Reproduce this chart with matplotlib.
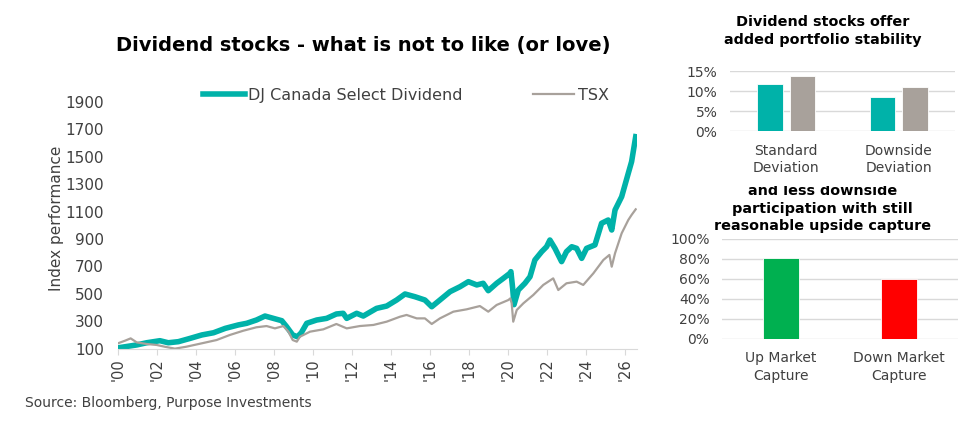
import matplotlib.pyplot as plt
from matplotlib.patches import Rectangle

# Index performance, fractional years
div_years = [2000.0, 2000.96, 2001.47, 2002.15, 2002.58, 2003.1, 2003.7, 2004.3, 2004.9,
             2005.5, 2006.17, 2006.6, 2007.1, 2007.54, 2007.97, 2008.4, 2008.65, 2008.96,
             2009.2, 2009.4, 2009.68, 2010.19, 2010.7, 2011.2, 2011.55, 2011.73, 2012.24,
             2012.58, 2013.26, 2013.78, 2014.29, 2014.72, 2015.23, 2015.74, 2016.09,
             2016.51, 2017.03, 2017.54, 2017.97, 2018.4, 2018.73, 2018.99, 2019.42,
             2019.76, 2020.1, 2020.15, 2020.24, 2020.31, 2020.53, 2020.87, 2021.13,
             2021.38, 2021.73, 2021.98, 2022.15, 2022.41, 2022.75, 2023.0, 2023.27,
             2023.52, 2023.78, 2024.03, 2024.46, 2024.8, 2025.14, 2025.32, 2025.49,
             2025.83, 2026.17, 2026.34, 2026.55]
div_values = [105, 126, 142, 157, 142, 150, 174, 199, 215,
              247, 272, 284, 308, 337, 320, 303, 259, 199,
              186, 215, 284, 308, 320, 352, 357, 320, 357,
              337, 393, 410, 454, 498, 478, 454, 405,
              454, 515, 551, 588, 564, 576, 522, 576,
              612, 649, 661, 540, 420, 527, 576, 624,
              746, 807, 843, 892, 831, 734, 807, 843,
              831, 758, 831, 856, 1014, 1038, 965, 1111,
              1208, 1379, 1464, 1646]

tsx_years = [2000.0, 2000.36, 2000.65, 2000.96, 2001.47, 2001.98, 2002.4, 2002.92, 2003.5,
             2004.3, 2005.06, 2005.74, 2006.43, 2007.1, 2007.62, 2008.05, 2008.48, 2008.74,
             2008.96, 2009.17, 2009.33, 2009.85, 2010.53, 2011.2, 2011.73, 2012.4, 2013.1,
             2013.78, 2014.46, 2014.8, 2015.32, 2015.74, 2016.09, 2016.51, 2017.2, 2017.88,
             2018.56, 2018.99, 2019.42, 2020.02, 2020.12, 2020.19, 2020.27, 2020.45,
             2020.79, 2021.3, 2021.81, 2022.32, 2022.58, 2023.0, 2023.52, 2023.86,
             2024.38, 2024.89, 2025.2, 2025.32, 2025.49, 2025.83, 2026.17, 2026.34, 2026.55]
tsx_values = [138, 157, 174, 145, 133, 126, 113, 99, 113,
              138, 162, 199, 230, 255, 264, 247, 264, 223,
              162, 150, 186, 223, 240, 279, 247, 264, 272,
              296, 332, 345, 320, 320, 279, 320, 369, 386,
              410, 369, 418, 454, 466, 430, 296, 381,
              430, 491, 564, 612, 527, 576, 588, 564,
              649, 746, 783, 697, 795, 941, 1038, 1075, 1116]

x_ticks = list(range(2000, 2027, 2))
x_tick_labels = ["'%02d" % (y % 100) for y in x_ticks]
y_ticks = list(range(100, 2000, 200))

# Volatility bars
vol_categories = ["Standard\nDeviation", "Downside\nDeviation"]
vol_div = [11.8, 8.5]
vol_tsx = [13.8, 10.9]

# Capture bars
cap_categories = ["Up Market\nCapture", "Down Market\nCapture"]
cap_values = [81, 60]

teal = "#00B2A9"
grey = "#A8A19B"
text_col = "#404040"
grid_col = "#D9D9D9"

plt.rcParams["font.family"] = ["DejaVu Sans"]

fig = plt.figure(figsize=(9.75, 4.3), dpi=100)

# Main line chart
ax = fig.add_axes([0.1210, 0.1895, 0.532, 0.6054])
ax.plot(div_years, div_values, color=teal, linewidth=4.0, label="DJ Canada Select Dividend")
ax.plot(tsx_years, tsx_values, color=grey, linewidth=1.6, label="TSX")
ax.set_xlim(2000, 2026.6)
ax.set_ylim(100, 2000)
ax.set_xticks(x_ticks)
ax.set_xticklabels(x_tick_labels, rotation=90, fontsize=10.5, color=text_col)
ax.set_yticks(y_ticks)
ax.set_yticklabels([str(v) for v in y_ticks], fontsize=11, color=text_col)
ax.tick_params(axis="y", length=0, pad=10)
ax.tick_params(axis="x", length=4, color=grid_col, pad=3)
for side in ["top", "right", "left"]:
    ax.spines[side].set_visible(False)
ax.spines["bottom"].set_color(grid_col)
ax.set_ylabel("Index performance", fontsize=11, color=text_col, labelpad=1)

fig.text(0.3728, 0.895, "Dividend stocks - what is not to like (or love)",
         fontsize=14, fontweight="bold", ha="center", va="center")
fig.legend(loc="center", bbox_to_anchor=(0.4164, 0.779), ncol=2, frameon=False,
           fontsize=11.5, handlelength=2.6, handletextpad=0.2, columnspacing=4.4,
           labelcolor=text_col)
fig.text(0.026, 0.063, "Source: Bloomberg, Purpose Investments", fontsize=10,
         color=text_col, va="center")

# Top right: volatility
ax2 = fig.add_axes([0.7487, 0.6953, 0.2308, 0.1395])
xs = [0, 1]
ax2.bar([x - 0.145 for x in xs], vol_div, width=0.23, color=teal, edgecolor="white",
        linewidth=0.6, zorder=3)
ax2.bar([x + 0.145 for x in xs], vol_tsx, width=0.23, color=grey, edgecolor="white",
        linewidth=0.6, zorder=3)
ax2.set_xlim(-0.5, 1.5)
ax2.set_ylim(0, 15)
ax2.set_yticks([0, 5, 10, 15])
ax2.set_yticklabels(["0%", "5%", "10%", "15%"], fontsize=10, color=text_col)
ax2.set_xticks(xs)
ax2.set_xticklabels(vol_categories, fontsize=10, color=text_col, linespacing=1.3)
ax2.tick_params(length=0, pad=9)
ax2.grid(axis="y", color=grid_col, linewidth=1, zorder=0)
for s in ax2.spines.values():
    s.set_visible(False)
fig.text(0.8438, 0.927, "Dividend stocks offer\nadded portfolio stability",
         fontsize=10.4, fontweight="bold", ha="center", va="center", linespacing=1.35)

# Bottom right: capture ratios
ax3 = fig.add_axes([0.7405, 0.2123, 0.242, 0.2326])
ax3.bar(xs, cap_values, width=0.31, color=["#00B050", "#FF0000"], edgecolor="white",
        linewidth=0.6, zorder=3)
ax3.set_xlim(-0.5, 1.5)
ax3.set_ylim(0, 100)
ax3.set_yticks(range(0, 101, 20))
ax3.set_yticklabels(["%d%%" % v for v in range(0, 101, 20)], fontsize=10, color=text_col)
ax3.set_xticks(xs)
ax3.set_xticklabels(cap_categories, fontsize=10, color=text_col, linespacing=1.3)
ax3.tick_params(length=0, pad=9)
ax3.grid(axis="y", color=grid_col, linewidth=1, zorder=0)
for s in ax3.spines.values():
    s.set_visible(False)
fig.text(0.8438, 1 - 208.5 / 430, "and less downside\nparticipation with still\nreasonable upside capture",
         fontsize=10.4, fontweight="bold", ha="center", va="center", linespacing=1.35)
# top of the first subtitle line is hidden in the original
fig.patches.append(Rectangle((0.70, (430 - 186) / 430), 0.30, 11 / 430,
                             transform=fig.transFigure, facecolor="white",
                             edgecolor="none", zorder=10))

fig.savefig("out.png", dpi=100)
